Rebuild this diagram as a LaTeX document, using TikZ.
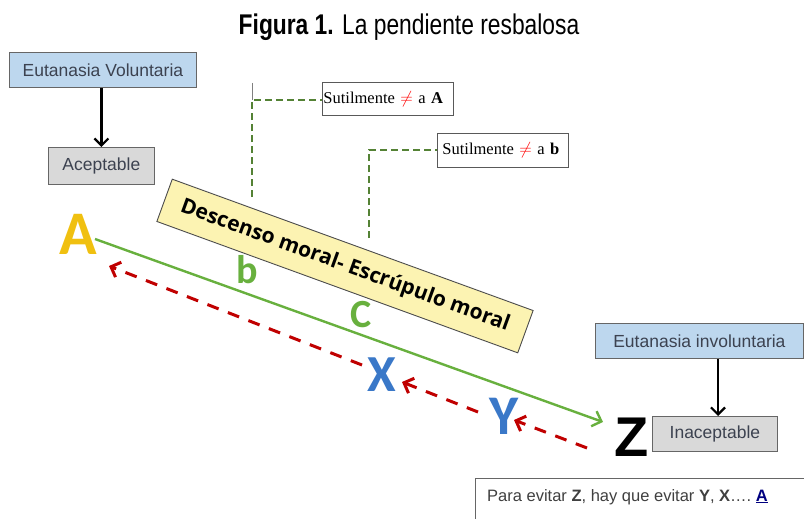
\documentclass[tikz,border=0pt]{standalone}
\usepackage{fontspec}
\setmainfont{Liberation Sans}
\newfontfamily\serifr{Liberation Serif}
\newfontfamily\carl{Carlito}
\newfontfamily\opens{Open Sans}
\usetikzlibrary{arrows.meta}
\definecolor{boxblue}{RGB}{189,215,238}
\definecolor{boxgray}{RGB}{217,217,217}
\definecolor{boxyellow}{RGB}{252,243,178}
\definecolor{dgreen}{RGB}{84,130,53}
\definecolor{lgreen}{RGB}{104,176,62}
\definecolor{dred}{RGB}{192,0,0}
\definecolor{lblue}{RGB}{58,120,200}
\definecolor{gold}{RGB}{240,192,16}
\definecolor{txt}{RGB}{60,66,80}
\tikzset{
  bluebox/.style={draw=gray!80!black, fill=boxblue, line width=0.8pt, text=txt, font=\fontsize{17.5}{19}\selectfont, inner sep=0pt, anchor=north west},
  graybox/.style={draw=gray!80!black, fill=boxgray, line width=0.8pt, text=txt, font=\fontsize{17.5}{19}\selectfont, inner sep=0pt, anchor=north west},
  subbox/.style={draw=gray!70!black, fill=white, line width=0.9pt, font=\serifr\fontsize{16.5}{18}\selectfont, inner sep=1pt, anchor=north west, text width=129pt, align=left},
  blkarrow/.style={line width=2.2pt, -{Straight Barb[length=7pt,width=14pt]}},
  gdash/.style={dgreen, line width=2pt, dash pattern=on 7pt off 4pt},
  rdash/.style={dred, line width=3pt, dash pattern=on 12pt off 10pt, -{Straight Barb[length=8pt,width=16pt]}},
  bigletter/.style={inner sep=0pt, font=\carl\bfseries}
}
\begin{document}
\begin{tikzpicture}[x=1pt,y=-1pt]
\useasboundingbox (0,0) rectangle (804,519);
% title
\node (title) at (409,27) {\scalebox{0.8}[1]{\fontsize{28.5}{30}\selectfont\textbf{Figura 1.} La pendiente resbalosa}};
% left boxes
\node[bluebox, minimum width=187pt, minimum height=35pt] (ev) at (9,52) {Eutanasia Voluntaria};
\node[graybox, minimum width=106pt, minimum height=37pt] (ac) at (48,147) {Aceptable};
\draw[blkarrow] (ev.south -| ac.north) -- (ac.north);
% sutilmente boxes
\node[subbox, minimum height=33pt] (sa) at (322,82) {Sutilmente \textcolor{red}{$\neq$} a \textbf{A}};
\node[subbox, minimum height=34pt] (sb) at (437,133) {\hspace{4pt}Sutilmente \textcolor{red}{$\neq$} a \textbf{b}};
\coordinate (ta) at (252,83);
\coordinate (ca) at (252,100);
\coordinate (da) at (252,197);
\coordinate (cb) at (369,150);
\coordinate (db) at (369,238);
\draw[gray, line width=0.8pt] (ta) -- (ca);
\draw[gdash] (da) -- (ca) -- (sa.west |- ca);
\draw[gdash] (db) -- (cb) -- (sb.west |- cb);
% yellow slanted box
\node[draw=black!70, fill=boxyellow, line width=0.9pt, rotate=-20, minimum width=384pt, minimum height=45pt, inner sep=0pt, font=\opens\bfseries\fontsize{21}{22}\selectfont] (dm) at (345,266) {Descenso moral- Escrúpulo moral};
% letters
\node[bigletter, text=gold, font=\carl\bfseries\fontsize{62}{62}\selectfont] (A) at (78,234) {A};
\node[bigletter, text=lgreen, font=\carl\bfseries\fontsize{40}{40}\selectfont] (b) at (247,270) {b};
\node[bigletter, text=lgreen, font=\carl\bfseries\fontsize{40}{40}\selectfont] (C) at (361,315) {C};
\node[bigletter, text=lblue, font=\carl\bfseries\fontsize{52}{52}\selectfont] (X) at (382,375) {X};
\node[bigletter, text=lblue, font=\carl\bfseries\fontsize{56}{56}\selectfont] (Y) at (504,416) {Y};
\node[bigletter, text=black, font=\bfseries\fontsize{56}{56}\selectfont] (Z) at (632,437) {Z};
% green arrow
\coordinate (g0) at (95,239);
\coordinate (g1) at (603,422);
\draw[lgreen, line width=2.4pt, -{Straight Barb[length=8pt,width=16pt]}] (g0) -- (g1);
% red dashed arrows
\coordinate (r0) at (587,448);
\coordinate (r1) at (514,420);
\coordinate (r2) at (478,412);
\coordinate (r3) at (402,382);
\coordinate (r4) at (362,365);
\coordinate (r5) at (109,266);
\draw[rdash] (r0) -- (r1);
\draw[rdash] (r2) -- (r3);
\draw[rdash] (r4) -- (r5);
% right boxes
\node[bluebox, minimum width=208pt, minimum height=35pt] (ei) at (595,323) {Eutanasia involuntaria};
\node[graybox, minimum width=125pt, minimum height=35pt] (in) at (652,416) {Inaceptable};
\draw[blkarrow] (ei.south -| 718,0) coordinate (eib) -- (eib |- in.north);
% bottom note
\node[draw=gray!80!black, line width=0.9pt, fill=white, minimum width=335pt, minimum height=50pt, inner sep=0pt, anchor=north west] (nt) at (475,478) {};
\node[anchor=base west, inner sep=0pt, text=black!75, font=\fontsize{16.5}{18}\selectfont] (ntx) at (487,501) {Para evitar \textbf{Z}, hay que evitar \textbf{Y}, \textbf{X}\ldots.\ \textcolor{blue!50!black}{\underline{\textbf{A}}}};
\end{tikzpicture}
\end{document}
